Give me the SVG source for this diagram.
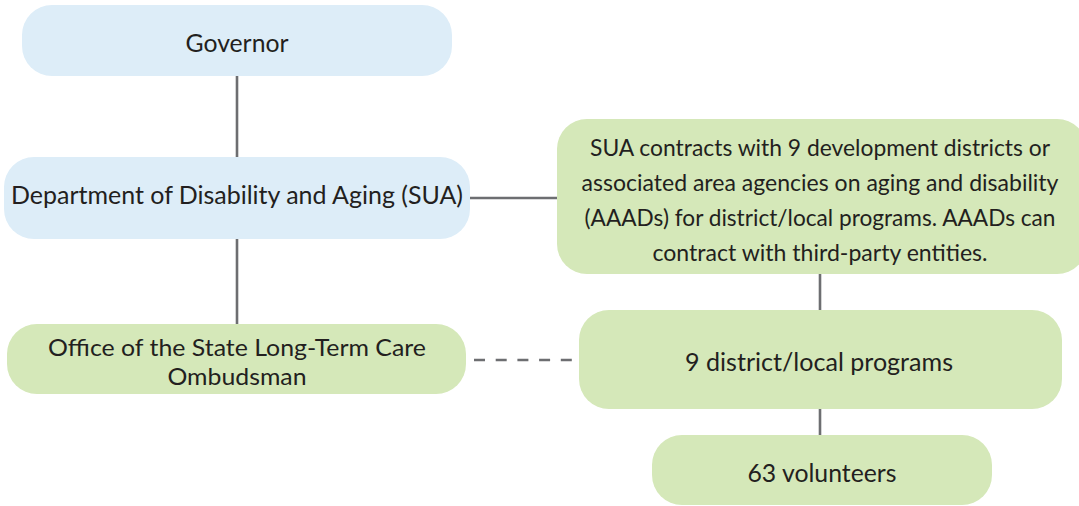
<svg xmlns="http://www.w3.org/2000/svg" width="1079" height="506" viewBox="0 0 1079 506">
<style>
.blue{fill:#ddedf8}
.green{fill:#d5e8b9}
.t{font-family:Lato,"Liberation Sans",sans-serif;font-size:25px;fill:#231f20;text-anchor:middle}
.s{font-size:23px}
.o{font-size:24px}
.c{stroke:#6d6e71;stroke-width:2.6;fill:none}
.d{stroke-dasharray:11 10.7}
</style>
<rect width="1079" height="506" fill="#ffffff"/>
<g id="connectors">
<line class="c" x1="237" y1="76" x2="237" y2="157"/>
<line class="c" x1="237" y1="239" x2="237" y2="324"/>
<line class="c" x1="470" y1="198" x2="557" y2="198"/>
<line class="c" x1="820" y1="274" x2="820" y2="310"/>
<line class="c" x1="820" y1="409" x2="820" y2="435"/>
<line class="c d" x1="474" y1="360" x2="572" y2="360"/>
</g>
<g id="governor">
<rect class="blue" x="22" y="5" width="430" height="71" rx="30"/>
<text class="t" x="237" y="52" textLength="103" lengthAdjust="spacingAndGlyphs">Governor</text>
</g>
<g id="department">
<rect class="blue" x="4" y="157" width="466" height="82" rx="30"/>
<text class="t" x="237" y="204" textLength="452" lengthAdjust="spacingAndGlyphs">Department of Disability and Aging (SUA)</text>
</g>
<g id="sua-contracts">
<rect class="green" x="557" y="119" width="530" height="155" rx="30"/>
<text class="t s" x="820" y="156" textLength="460" lengthAdjust="spacingAndGlyphs">SUA contracts with 9 development districts or</text>
<text class="t s" x="820" y="191" textLength="477" lengthAdjust="spacingAndGlyphs">associated area agencies on aging and disability</text>
<text class="t s" x="820" y="226" textLength="471" lengthAdjust="spacingAndGlyphs">(AAADs) for district/local programs. AAADs can</text>
<text class="t s" x="820" y="261" textLength="335" lengthAdjust="spacingAndGlyphs">contract with third-party entities.</text>
</g>
<g id="ombudsman">
<rect class="green" x="7" y="324" width="459" height="70" rx="30"/>
<text class="t o" x="237" y="356" textLength="378" lengthAdjust="spacingAndGlyphs">Office of the State Long-Term Care</text>
<text class="t o" x="237" y="385" textLength="139" lengthAdjust="spacingAndGlyphs">Ombudsman</text>
</g>
<g id="district-programs">
<rect class="green" x="579" y="310" width="483" height="99" rx="30"/>
<text class="t" x="819" y="371" textLength="268" lengthAdjust="spacingAndGlyphs">9 district/local programs</text>
</g>
<g id="volunteers">
<rect class="green" x="652" y="435" width="340" height="70" rx="30"/>
<text class="t" x="822" y="482" textLength="149" lengthAdjust="spacingAndGlyphs">63 volunteers</text>
</g>
</svg>
